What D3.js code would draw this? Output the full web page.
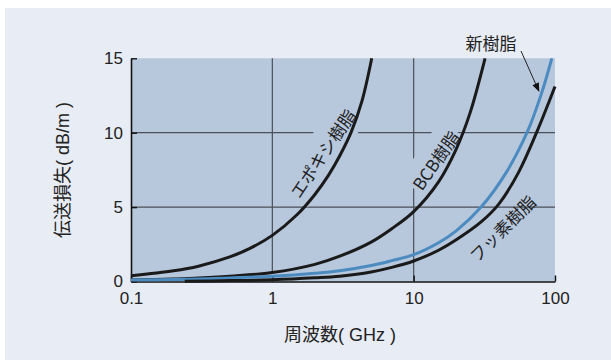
<!DOCTYPE html>
<html>
<head>
<meta charset="utf-8">
<script src="https://cdn.jsdelivr.net/npm/d3@7/dist/d3.min.js"></script>
<style>
  html, body { margin: 0; padding: 0; background: #ffffff; }
  svg { display: block; }
</style>
</head>
<body>
<div id="chart"></div>
<script>
// 伝送損失 vs 周波数 for four resin types
const xTicks = [0.1, 1, 10, 100];
const xTickLabels = ["0.1", "1", "10", "100"];
const yTicks = [0, 5, 10, 15];
const yTickLabels = ["0", "5", "10", "15"];

// frequency (GHz) / loss (dB/m) pairs per material
const epoxyFreq = [0.1, 0.2, 0.3, 0.5, 0.7, 1, 1.5, 2, 2.5, 3, 3.6, 4.3, 5.05];
const epoxyLoss = [0.38, 0.72, 1.03, 1.65, 2.24, 3.1, 4.5, 5.85, 7.15, 8.45, 10, 12.1, 15];

const bcbFreq = [0.1, 0.2, 0.3, 0.5, 1, 2, 3, 5, 7, 10, 15, 20, 25, 32];
const bcbLoss = [0.1, 0.17, 0.23, 0.36, 0.6, 1.15, 1.7, 2.65, 3.55, 4.7, 6.7, 8.9, 11.3, 15];

const newFreq = [0.1, 0.2, 0.3, 0.5, 1, 2, 3, 5, 7, 10, 15, 20, 30, 45, 64, 80, 95];
const newLoss = [0.1, 0.14, 0.17, 0.24, 0.35, 0.55, 0.72, 1.07, 1.4, 1.8, 2.6, 3.4, 5.0, 7.3, 10.1, 12.6, 15];

const fluoroFreq = [0.24, 0.5, 1, 2, 3, 5, 7, 10, 15, 20, 30, 40, 55, 74, 100];
const fluoroLoss = [0.02, 0.06, 0.12, 0.25, 0.36, 0.64, 0.95, 1.38, 2.1, 2.8, 4.0, 5.2, 7.3, 10, 13.1];

const W = 611, H = 362;
const plot = { left: 131, right: 555, top: 58.3, bottom: 281.5 };

const latin = "'Liberation Sans', Arial, 'Noto Sans CJK JP', sans-serif";
const jp = "'Noto Sans CJK JP', 'Noto Sans', sans-serif";
const plotFill = "#b7c7dc";

const svg = d3.select("#chart").append("svg")
  .attr("width", W).attr("height", H);

// outer panel
svg.append("rect")
  .attr("x", 5).attr("y", 8).attr("width", W - 5).attr("height", 352)
  .attr("fill", "#e8ecf4");

const x = d3.scaleLog().domain([0.1, 100]).range([plot.left, plot.right]);
const y = d3.scaleLinear().domain([0, 15]).range([plot.bottom, plot.top]);

// plot area
svg.append("rect")
  .attr("x", plot.left).attr("y", plot.top)
  .attr("width", plot.right - plot.left).attr("height", plot.bottom - plot.top)
  .attr("fill", plotFill);

// grid; the 1 GHz line stops where the BCB curve crosses it
const grid = svg.append("g").attr("stroke", "#4a4f58").attr("stroke-width", 1.2);
grid.selectAll("line.h").data([5, 10]).join("line")
  .attr("x1", plot.left).attr("x2", plot.right)
  .attr("y1", d => y(d)).attr("y2", d => y(d));
const bcbAt1 = bcbLoss[bcbFreq.indexOf(1)];
grid.selectAll("line.v").data([1, 10]).join("line")
  .attr("x1", d => x(d)).attr("x2", d => x(d))
  .attr("y1", plot.top).attr("y2", d => d === 1 ? y(bcbAt1) : plot.bottom);

// rotated curve labels (knock out the grid behind them)
function curveLabel(text, cx, cy, angle, size, knockout) {
  const g = svg.append("g").attr("transform", `translate(${cx},${cy}) rotate(${angle})`);
  const t = g.append("text")
    .attr("text-anchor", "middle").attr("dominant-baseline", "central")
    .attr("font-family", jp).attr("font-size", size).attr("fill", "#1e1e1e")
    .text(text);
  if (knockout) {
    const bb = t.node().getBBox();
    g.insert("rect", "text")
      .attr("x", bb.x - 2).attr("y", bb.y - 6)
      .attr("width", bb.width + 4).attr("height", bb.height + 12)
      .attr("fill", plotFill);
  }
}
curveLabel("エポキシ樹脂", 322, 153, -56, 17, true);
curveLabel("BCB樹脂", 435, 160, -55, 17, true);
curveLabel("フッ素樹脂", 502, 228, -45, 17, false);

// axes
const yAxis = d3.axisLeft(y).tickValues(yTicks)
  .tickFormat((d, i) => yTickLabels[i]).tickSizeInner(-6).tickSizeOuter(0).tickPadding(8);
const xAxis = d3.axisBottom(x).tickValues(xTicks)
  .tickFormat((d, i) => xTickLabels[i]).tickSizeInner(-6).tickSizeOuter(0).tickPadding(10);

const gy = svg.append("g").attr("transform", `translate(${plot.left},0)`).call(yAxis);
const gx = svg.append("g").attr("transform", `translate(0,${plot.bottom})`).call(xAxis);
[gx, gy].forEach(g => {
  g.select(".domain").attr("stroke", "#111").attr("stroke-width", 1.6);
  g.selectAll(".tick line").attr("stroke", "#111").attr("stroke-width", 1.4);
  g.selectAll(".tick text").attr("font-family", latin).attr("font-size", 17).attr("fill", "#222");
});

// curves
const line = d3.line().x(d => x(d[0])).y(d => y(d[1])).curve(d3.curveCatmullRom.alpha(0.5));
const zip = (a, b) => a.map((v, i) => [v, b[i]]);
const series = [
  { f: bcbFreq, v: bcbLoss, color: "#1a1a1a" },
  { f: epoxyFreq, v: epoxyLoss, color: "#1a1a1a" },
  { f: newFreq, v: newLoss, color: "#4b8bc0" },
  { f: fluoroFreq, v: fluoroLoss, color: "#1a1a1a" }
];
svg.append("g").selectAll("path").data(series).join("path")
  .attr("d", s => line(zip(s.f, s.v)))
  .attr("fill", "none").attr("stroke", s => s.color)
  .attr("stroke-width", 3).attr("stroke-linecap", "butt");

// 新樹脂 callout with arrow to the blue curve
const tipIdx = newFreq.indexOf(80);
const tip = [x(newFreq[tipIdx]) - 2, y(newLoss[tipIdx]) - 2];
const tail = [521, 51];
svg.append("text")
  .attr("x", 491).attr("y", 42).attr("text-anchor", "middle").attr("dominant-baseline", "central")
  .attr("font-family", jp).attr("font-size", 17).attr("fill", "#222").text("新樹脂");
const ang = Math.atan2(tip[1] - tail[1], tip[0] - tail[0]);
const headLen = 9, headW = 3.5;
const base = [tip[0] - headLen * Math.cos(ang), tip[1] - headLen * Math.sin(ang)];
svg.append("line")
  .attr("x1", tail[0]).attr("y1", tail[1]).attr("x2", base[0]).attr("y2", base[1])
  .attr("stroke", "#222").attr("stroke-width", 1);
svg.append("path")
  .attr("d", d3.line()([
    tip,
    [base[0] + headW * Math.sin(ang), base[1] - headW * Math.cos(ang)],
    [base[0] - headW * Math.sin(ang), base[1] + headW * Math.cos(ang)]
  ]) + "Z")
  .attr("fill", "#111");

// axis titles
svg.append("text")
  .attr("transform", `translate(63,${(plot.top + plot.bottom) / 2}) rotate(-90)`)
  .attr("text-anchor", "middle").attr("dominant-baseline", "central")
  .attr("font-family", latin).attr("font-size", 18).attr("fill", "#222")
  .text("伝送損失( dB/m )");
svg.append("text")
  .attr("x", 340).attr("y", 335)
  .attr("text-anchor", "middle").attr("dominant-baseline", "central")
  .attr("font-family", latin).attr("font-size", 18).attr("fill", "#222")
  .text("周波数( GHz )");
</script>
</body>
</html>
